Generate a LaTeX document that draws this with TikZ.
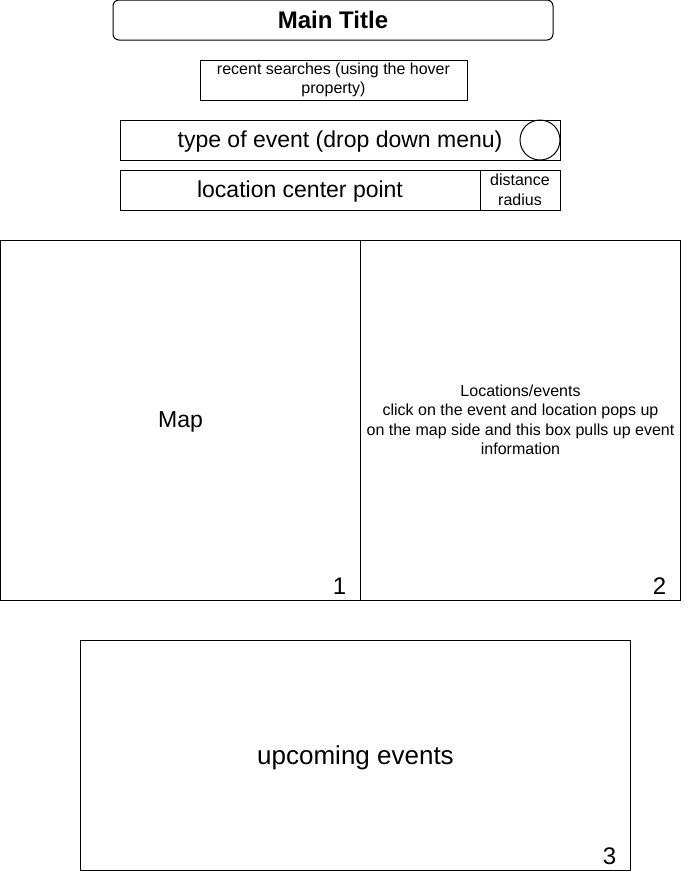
\documentclass[tikz,border=0pt]{standalone}
\usepackage{fontspec}
\setmainfont{Liberation Sans}
\usetikzlibrary{positioning}
\newcommand{\smallfont}{\fontsize{16}{19.5}\selectfont}
\newcommand{\numfont}{\fontsize{24}{28}\selectfont}

\begin{document}
\begin{tikzpicture}[
        x=1pt, y=-1pt,
        box/.style={draw, line width=1pt, inner sep=0pt, outer sep=0pt, align=center},
        oneline/.style={box, font=\fontsize{#1}{#1}\selectfont, text height={0.905*#1pt}, text depth={0.212*#1pt}},
        oneline/.default=23,
        smallbox/.style={box, font=\smallfont},
        num/.style={anchor=base east, inner sep=0pt, font=\numfont}
      ]
      \useasboundingbox (0,0) rectangle (691,871);

      \node[oneline=24, rounded corners=6pt, minimum width=440pt, minimum height=40pt] (title) at (333,20) {\bfseries Main Title};
      \node[smallbox, minimum width=267pt, minimum height=40pt] (recent) at (333.5,80) {recent searches (using the hover\\property)};
      \node[oneline, minimum width=440pt, minimum height=40pt] (evtype) at (340,140) {type of event (drop down menu)};
      \node[draw, line width=1pt, circle, minimum size=40pt, inner sep=0pt] (dropbtn) at (540,140) {};
      \node[oneline, minimum width=360pt, minimum height=40pt] (loc) at (300,190) {location center point};
      \node[smallbox, minimum width=80pt, minimum height=40pt, right=0pt of loc] (radius) {distance\\radius};

      \node[oneline, minimum width=360pt, minimum height=360pt] (map) at (180.5,420) {Map};
      \node[smallbox, minimum width=320pt, minimum height=360pt, right=0pt of map] (events) {Locations/events\\click on the event and location pops up\\on the map side and this box pulls up event\\information};
      \node[oneline=26, minimum width=550pt, minimum height=230pt] (upcoming) at (355.5,755) {upcoming events};

      \node[num] (n1) at ([xshift=-14pt, yshift=6pt]map.south east) {1};
      \node[num] (n2) at ([xshift=-14pt, yshift=6pt]events.south east) {2};
      \node[num] (n3) at ([xshift=-14pt, yshift=6pt]upcoming.south east) {3};
    \end{tikzpicture}
\end{document}
